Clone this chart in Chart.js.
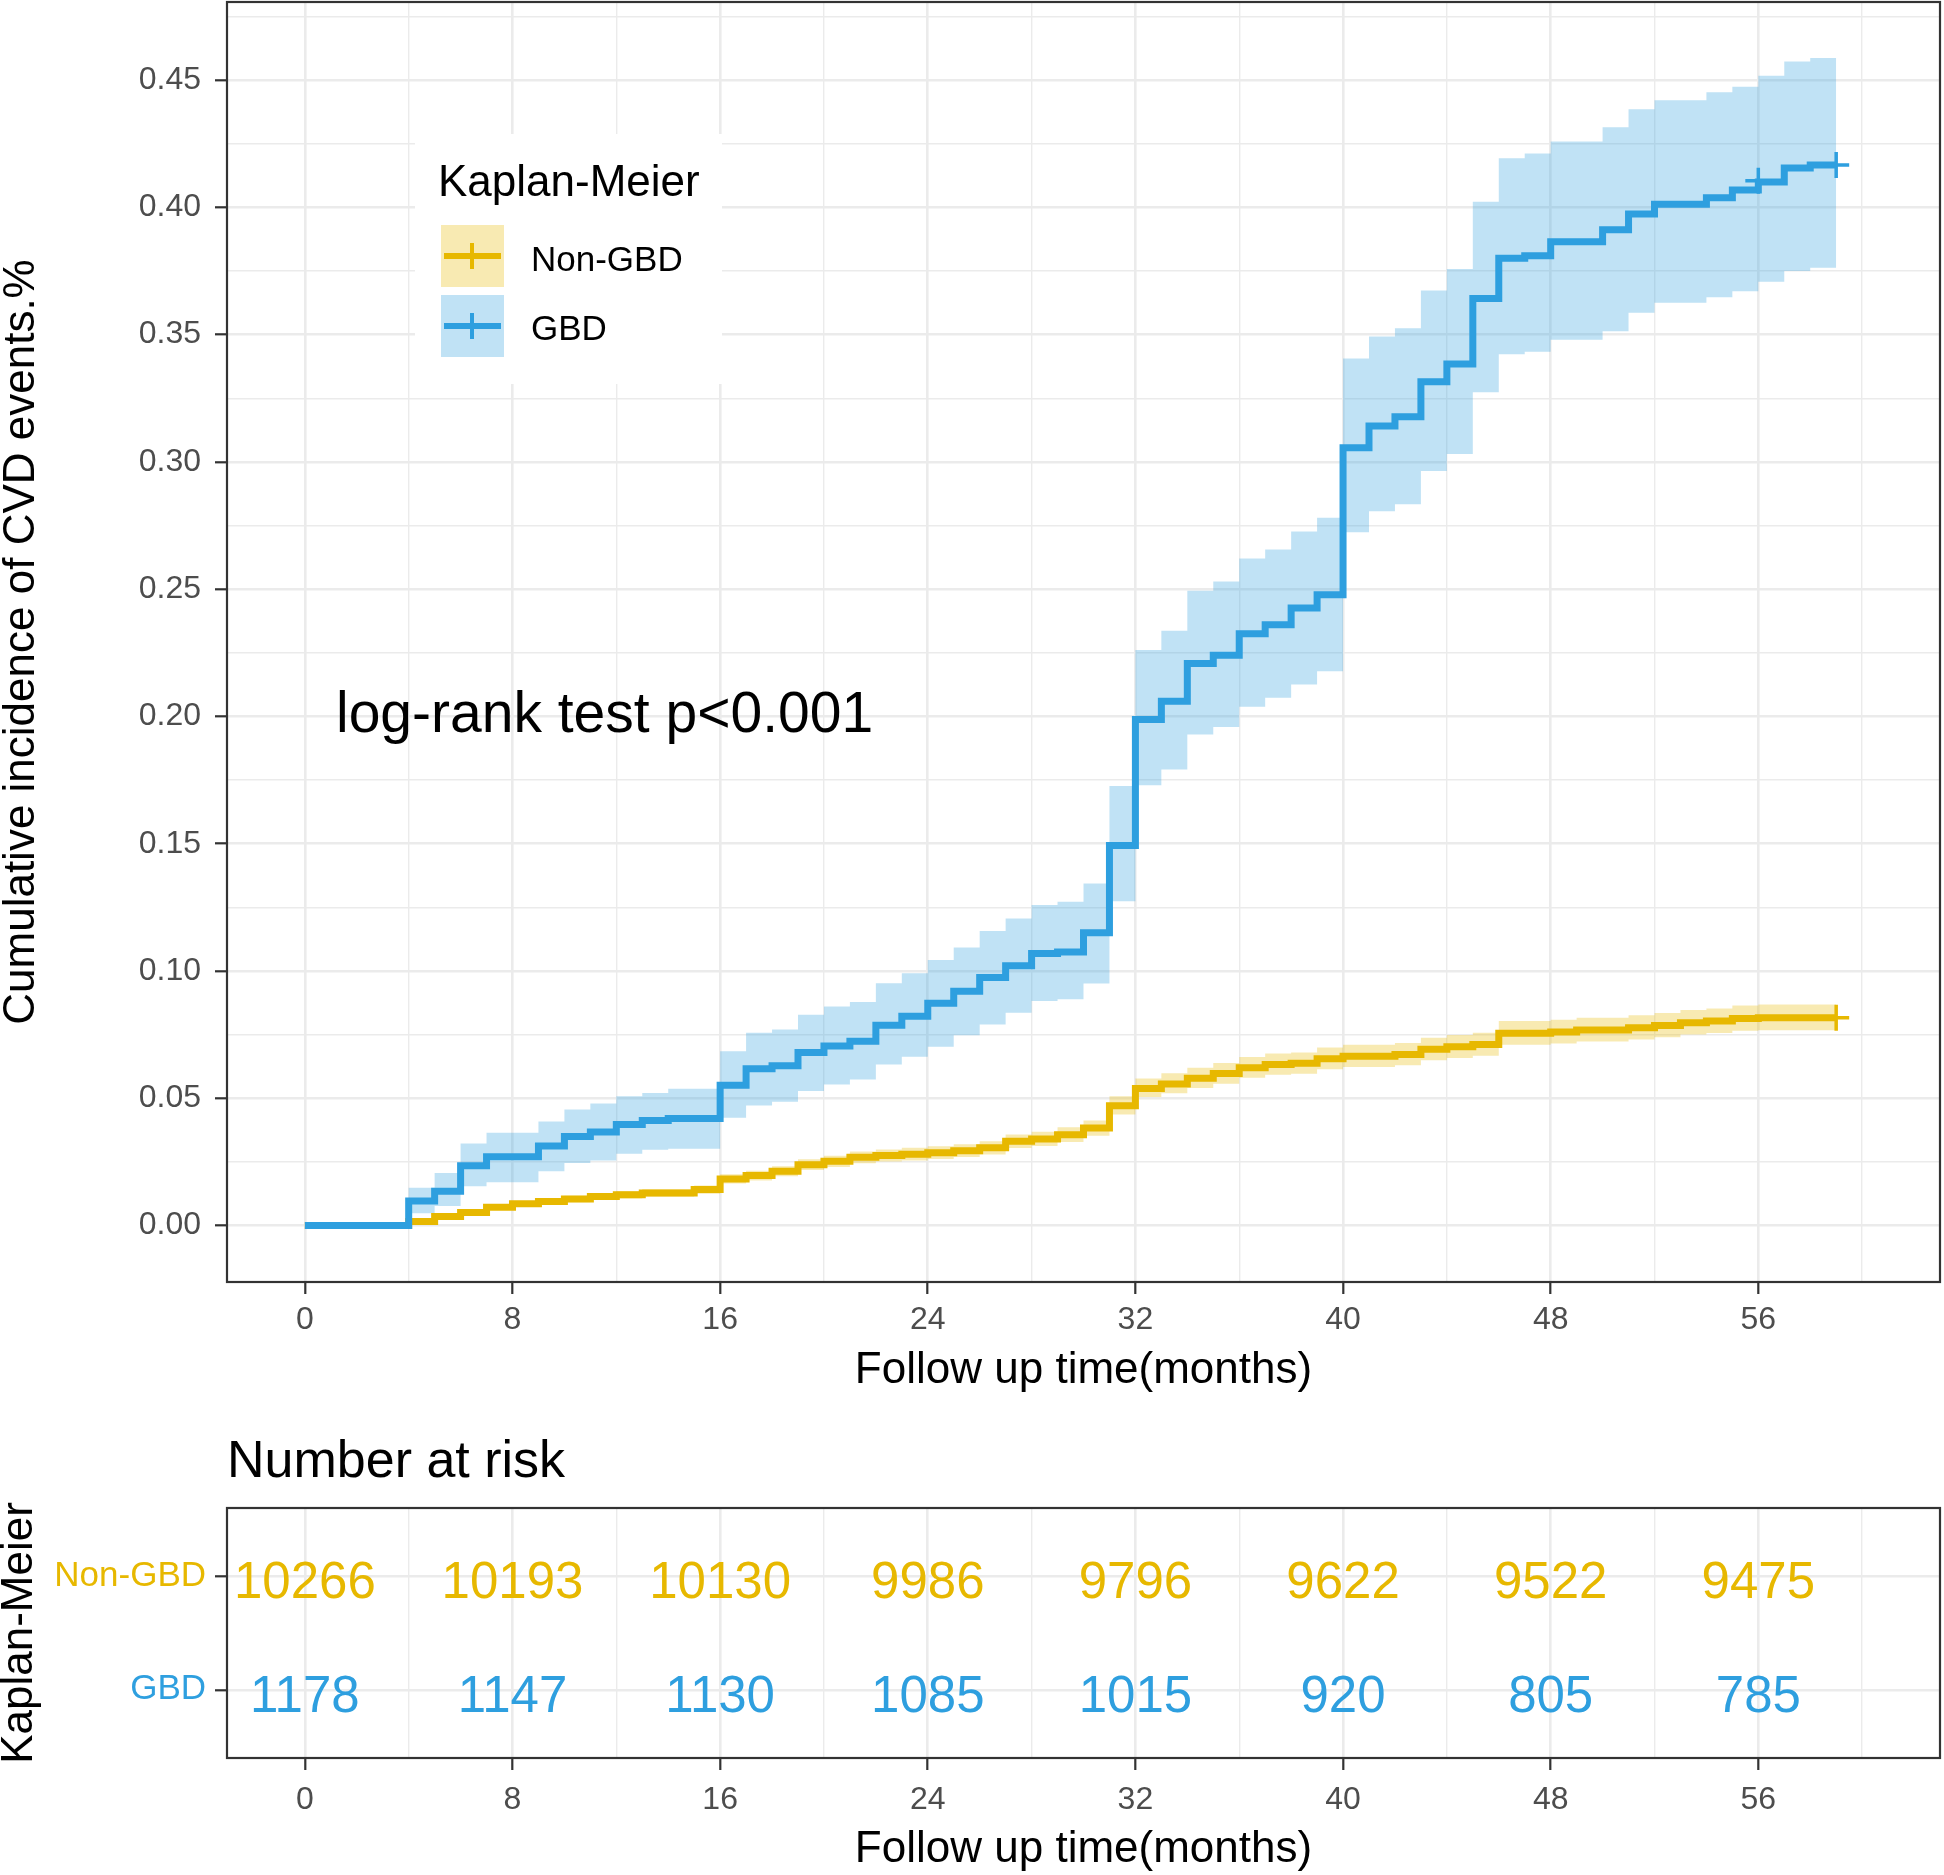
<!DOCTYPE html>
<html>
<head>
<meta charset="utf-8">
<title>Kaplan-Meier CVD events</title>
<script src="https://cdn.jsdelivr.net/npm/chart.js@4.4.1/dist/chart.umd.min.js"></script>
<style>
    html, body { margin: 0; padding: 0; background: #ffffff; overflow: hidden; }
    #wrap { position: relative; width: 1944px; height: 1875px; }
    #km { position: absolute; left: 0; top: 0; }
    #risk { position: absolute; left: 0; top: 1400px; }
</style>
</head>
<body>
<div id="wrap">
    <canvas id="km" width="1944" height="1400"></canvas>
    <canvas id="risk" width="1944" height="475"></canvas>
</div>
<script>
// grid / tick positions
const xTickValues = [0, 4, 8, 12, 16, 20, 24, 28, 32, 36, 40, 44, 48, 52, 56, 60];
const yTickValues = [0, 0.025, 0.05, 0.075, 0.1, 0.125, 0.15, 0.175, 0.2, 0.225, 0.25, 0.275,
                     0.3, 0.325, 0.35, 0.375, 0.4, 0.425, 0.45, 0.475];

// GBD group: step times (months), cumulative incidence, 95% CI
const gbdTime = [0, 4, 5, 6, 7, 9, 10, 11, 12, 13, 14, 16, 17, 18, 19, 20, 21, 22, 23, 24, 25, 26, 27,
                 28, 29, 30, 31, 32, 33, 34, 35, 36, 37, 38, 39, 40, 41, 42, 43, 44, 45, 46, 47, 48,
                 50, 51, 52, 54, 55, 56, 57, 58, 59];
const gbdEst = [0, 0.0096, 0.0135, 0.0235, 0.0270, 0.0312, 0.0350, 0.0367, 0.0397, 0.0413, 0.0420,
                0.0551, 0.0616, 0.0628, 0.0680, 0.0705, 0.0724, 0.0787, 0.0822, 0.0873, 0.0920, 0.0974,
                0.1021, 0.1069, 0.1075, 0.1150, 0.1493, 0.1988, 0.2060, 0.2208, 0.2240, 0.2325, 0.2360,
                0.2426, 0.2478, 0.3056, 0.3141, 0.3177, 0.3315, 0.3385, 0.3642, 0.3800, 0.3810, 0.3865,
                0.3912, 0.3974, 0.4012, 0.4038, 0.4068, 0.4100, 0.4155, 0.4167, 0.4167];
const gbdUpper = [0, 0.0148, 0.0206, 0.0322, 0.0364, 0.0409, 0.0456, 0.0479, 0.0508, 0.0521, 0.0537,
                  0.0685, 0.0757, 0.0770, 0.0828, 0.0860, 0.0878, 0.0952, 0.0991, 0.1043, 0.1092, 0.1157,
                  0.1206, 0.1259, 0.1272, 0.1344, 0.1727, 0.2261, 0.2337, 0.2494, 0.2530, 0.2621, 0.2656,
                  0.2727, 0.2781, 0.3406, 0.3493, 0.3525, 0.3674, 0.3758, 0.4022, 0.4193, 0.4212, 0.4259,
                  0.4315, 0.4386, 0.4421, 0.4452, 0.4474, 0.4517, 0.4573, 0.4587, 0.4587];
const gbdLower = [0, 0.0048, 0.0077, 0.0154, 0.0170, 0.0213, 0.0246, 0.0255, 0.0282, 0.0298, 0.0302,
                  0.0423, 0.0471, 0.0486, 0.0528, 0.0554, 0.0574, 0.0633, 0.0663, 0.0702, 0.0747, 0.0790,
                  0.0836, 0.0882, 0.0889, 0.0951, 0.1274, 0.1730, 0.1792, 0.1929, 0.1959, 0.2038, 0.2073,
                  0.2126, 0.2178, 0.2724, 0.2806, 0.2834, 0.2964, 0.3031, 0.3274, 0.3423, 0.3433, 0.3480,
                  0.3513, 0.3586, 0.3625, 0.3647, 0.3671, 0.3708, 0.3750, 0.3763, 0.3763];
const gbdCensorTime = [56, 59];
const gbdCensorEst = [0.4105, 0.4167];

// Non-GBD group
const nonTime = [0, 4, 5, 6, 7, 8, 9, 10, 11, 12, 13, 15, 16, 17, 18, 19, 20, 21, 22, 23, 24, 25, 26,
                 27, 28, 29, 30, 31, 32, 33, 34, 35, 36, 37, 38, 39, 40, 42, 43, 44, 45, 46, 48, 49,
                 51, 52, 53, 54, 55, 56, 59];
const nonEst = [0, 0.0016, 0.0035, 0.0051, 0.0072, 0.0085, 0.0094, 0.0104, 0.0114, 0.0121, 0.0128,
                0.0141, 0.0183, 0.0196, 0.0213, 0.0239, 0.0252, 0.0268, 0.0275, 0.0280, 0.0286, 0.0294,
                0.0305, 0.0331, 0.0340, 0.0357, 0.0383, 0.0470, 0.0538, 0.0556, 0.0579, 0.0597, 0.0620,
                0.0633, 0.0637, 0.0655, 0.0665, 0.0672, 0.0692, 0.0702, 0.0711, 0.0755, 0.0760, 0.0768,
                0.0777, 0.0786, 0.0797, 0.0803, 0.0813, 0.0816, 0.0816];
const nonUpper = [0, 0.0022, 0.0043, 0.0060, 0.0082, 0.0096, 0.0106, 0.0117, 0.0128, 0.0136, 0.0143,
                  0.0157, 0.0201, 0.0215, 0.0233, 0.0260, 0.0274, 0.0291, 0.0299, 0.0305, 0.0311, 0.0319,
                  0.0331, 0.0358, 0.0368, 0.0386, 0.0413, 0.0508, 0.0578, 0.0598, 0.0620, 0.0638, 0.0662,
                  0.0676, 0.0680, 0.0699, 0.0710, 0.0717, 0.0738, 0.0748, 0.0757, 0.0803, 0.0808, 0.0816,
                  0.0826, 0.0835, 0.0847, 0.0853, 0.0864, 0.0868, 0.0868];
const nonLower = [0, 0.0010, 0.0027, 0.0042, 0.0062, 0.0074, 0.0082, 0.0091, 0.0100, 0.0106, 0.0113,
                  0.0125, 0.0165, 0.0177, 0.0193, 0.0218, 0.0230, 0.0245, 0.0251, 0.0255, 0.0261, 0.0269,
                  0.0279, 0.0304, 0.0312, 0.0328, 0.0353, 0.0436, 0.0505, 0.0520, 0.0540, 0.0557, 0.0580,
                  0.0592, 0.0596, 0.0614, 0.0623, 0.0630, 0.0649, 0.0658, 0.0667, 0.0710, 0.0715, 0.0723,
                  0.0731, 0.0740, 0.0750, 0.0756, 0.0765, 0.0767, 0.0767];
const nonCensorTime = [59];
const nonCensorEst = [0.0816];

// number at risk table
const riskTimes = [0, 8, 16, 24, 32, 40, 48, 56];
const riskNonGBD = [10266, 10193, 10130, 9986, 9796, 9622, 9522, 9475];
const riskGBD = [1178, 1147, 1130, 1085, 1015, 920, 805, 785];
const riskRows = ['GBD', 'Non-GBD'];

const YELLOW = '#E7B800';
const BLUE = '#2E9FDF';
const YELLOW_FILL = 'rgba(231, 184, 0, 0.3)';
const BLUE_FILL = 'rgba(46, 159, 223, 0.3)';
const FONT = "'Liberation Sans', Arial, sans-serif";
const TICK_GREY = '#4D4D4D';

function toXY(xs, ys) {
    return xs.map((x, i) => ({ x: x, y: ys[i] }));
}

function isMajorX(v) {
    return v % 8 === 0;
}

function isMajorY(v) {
    return Math.abs(v * 20 - Math.round(v * 20)) < 1e-6;
}

// force the axis box size so the panel lands where the reference has it
function fixScale(width, height) {
    return function(scale) {
        if (width !== null) scale.width = width;
        if (height !== null) scale.height = height;
        scale.paddingLeft = 0;
        scale.paddingRight = 0;
        scale.paddingTop = 0;
        scale.paddingBottom = 0;
    };
}

function xScaleOptions(boxHeight, labelPad, titlePad) {
    return {
        type: 'linear',
        min: -3,
        max: 63,
        afterBuildTicks: s => { s.ticks = xTickValues.map(v => ({ value: v })); },
        afterFit: fixScale(null, boxHeight),
        border: { display: false },
        grid: {
            color: '#EBEBEB',
            lineWidth: ctx => (ctx.tick && isMajorX(ctx.tick.value)) ? 2.6 : 1.4,
            tickColor: ctx => (ctx.tick && isMajorX(ctx.tick.value)) ? '#333333' : 'rgba(0,0,0,0)',
            tickLength: 12,
            tickWidth: 2.2
        },
        ticks: {
            autoSkip: false,
            maxRotation: 0,
            padding: labelPad,
            color: TICK_GREY,
            font: { family: FONT, size: 32 },
            callback: v => isMajorX(v) ? String(v) : ''
        },
        title: {
            display: true,
            text: 'Follow up time(months)',
            color: '#000000',
            font: { family: FONT, size: 44, lineHeight: 1 },
            padding: { top: 0, bottom: titlePad }
        }
    };
}

function strokeSeg(ctx, x1, y1, x2, y2) {
    ctx.beginPath();
    ctx.moveTo(x1, y1);
    ctx.lineTo(x2, y2);
    ctx.stroke();
}

// legend, p-value text and panel frame of the KM plot
const kmDecor = {
    id: 'kmDecor',
    afterDatasetsDraw(chart) {
        const ctx = chart.ctx;
        const a = chart.chartArea;
        const xs = chart.scales.x;
        const ys = chart.scales.y;
        ctx.save();

        // legend
        ctx.fillStyle = '#FFFFFF';
        ctx.fillRect(415, 134, 307, 250);
        ctx.fillStyle = '#000000';
        ctx.textAlign = 'left';
        ctx.textBaseline = 'alphabetic';
        ctx.font = '44px ' + FONT;
        ctx.fillText('Kaplan-Meier', 438, 196);
        const keys = [
            { label: 'Non-GBD', color: YELLOW, fill: YELLOW_FILL, top: 225, base: 271 },
            { label: 'GBD', color: BLUE, fill: BLUE_FILL, top: 295, base: 340 }
        ];
        keys.forEach(k => {
            const cy = k.top + 31;
            ctx.fillStyle = k.fill;
            ctx.fillRect(441, k.top, 63, 62);
            ctx.strokeStyle = k.color;
            ctx.lineWidth = 6;
            strokeSeg(ctx, 444, cy, 501, cy);
            ctx.lineWidth = 4;
            strokeSeg(ctx, 472, cy - 13, 472, cy + 13);
            ctx.fillStyle = '#000000';
            ctx.font = '35px ' + FONT;
            ctx.fillText(k.label, 531, k.base);
        });

        // log-rank annotation
        ctx.font = '57px ' + FONT;
        ctx.fillText('log-rank test p<0.001', xs.getPixelForValue(1.2), ys.getPixelForValue(0.194));

        // panel border
        ctx.strokeStyle = '#333333';
        ctx.lineWidth = 2.2;
        ctx.strokeRect(a.left, a.top, a.right - a.left, a.bottom - a.top);
        ctx.restore();
    }
};

// numbers at risk and table frame
const riskDecor = {
    id: 'riskDecor',
    afterDatasetsDraw(chart) {
        const ctx = chart.ctx;
        const a = chart.chartArea;
        const rows = [
            { values: riskNonGBD, color: YELLOW },
            { values: riskGBD, color: BLUE }
        ];
        ctx.save();
        ctx.font = '51px ' + FONT;
        ctx.textAlign = 'center';
        ctx.textBaseline = 'alphabetic';
        rows.forEach((row, di) => {
            chart.getDatasetMeta(di).data.forEach((pt, i) => {
                ctx.fillStyle = row.color;
                ctx.fillText(String(row.values[i]), pt.x, pt.y + 22);
            });
        });
        ctx.strokeStyle = '#333333';
        ctx.lineWidth = 2.2;
        ctx.strokeRect(a.left, a.top, a.right - a.left, a.bottom - a.top);
        ctx.restore();
    }
};

// Kaplan-Meier plot
const kmChart = new Chart(document.getElementById('km'), {
    type: 'line',
    data: {
        datasets: [
            {
                label: 'GBD',
                data: toXY(gbdTime, gbdEst),
                borderColor: BLUE,
                borderWidth: 7,
                stepped: 'before',
                fill: false,
                order: 1
            },
            {
                label: 'Non-GBD',
                data: toXY(nonTime, nonEst),
                borderColor: YELLOW,
                borderWidth: 7,
                stepped: 'before',
                fill: false,
                order: 2
            },
            {
                label: 'GBD upper',
                data: toXY(gbdTime, gbdUpper),
                borderColor: 'rgba(0,0,0,0)',
                borderWidth: 0,
                backgroundColor: BLUE_FILL,
                stepped: 'before',
                fill: '+1',
                order: 5
            },
            {
                label: 'GBD lower',
                data: toXY(gbdTime, gbdLower),
                borderColor: 'rgba(0,0,0,0)',
                borderWidth: 0,
                stepped: 'before',
                fill: false,
                order: 5
            },
            {
                label: 'Non-GBD upper',
                data: toXY(nonTime, nonUpper),
                borderColor: 'rgba(0,0,0,0)',
                borderWidth: 0,
                backgroundColor: YELLOW_FILL,
                stepped: 'before',
                fill: '+1',
                order: 6
            },
            {
                label: 'Non-GBD lower',
                data: toXY(nonTime, nonLower),
                borderColor: 'rgba(0,0,0,0)',
                borderWidth: 0,
                stepped: 'before',
                fill: false,
                order: 6
            },
            {
                label: 'GBD censored',
                data: toXY(gbdCensorTime, gbdCensorEst),
                showLine: false,
                pointStyle: 'cross',
                pointRadius: 13,
                pointBorderWidth: 3.5,
                pointBorderColor: BLUE,
                order: 0
            },
            {
                label: 'Non-GBD censored',
                data: toXY(nonCensorTime, nonCensorEst),
                showLine: false,
                pointStyle: 'cross',
                pointRadius: 13,
                pointBorderWidth: 3.5,
                pointBorderColor: YELLOW,
                order: 0
            }
        ]
    },
    options: {
        responsive: false,
        animation: false,
        devicePixelRatio: 1,
        layout: { autoPadding: false, padding: { left: 0, top: 2, right: 4, bottom: 0 } },
        elements: { point: { radius: 0, hoverRadius: 0 } },
        plugins: {
            legend: { display: false },
            tooltip: { enabled: false }
        },
        scales: {
            x: xScaleOptions(118, 7, 7),
            y: {
                type: 'linear',
                min: -0.0222,
                max: 0.4807,
                afterBuildTicks: s => { s.ticks = yTickValues.map(v => ({ value: v })); },
                afterFit: fixScale(227, null),
                border: { display: false },
                grid: {
                    color: '#EBEBEB',
                    lineWidth: ctx => (ctx.tick && isMajorY(ctx.tick.value)) ? 2.6 : 1.4,
                    tickColor: ctx => (ctx.tick && isMajorY(ctx.tick.value)) ? '#333333' : 'rgba(0,0,0,0)',
                    tickLength: 12,
                    tickWidth: 2.2
                },
                ticks: {
                    autoSkip: false,
                    padding: 14,
                    color: TICK_GREY,
                    font: { family: FONT, size: 32 },
                    callback: v => isMajorY(v) ? v.toFixed(2) : ''
                },
                title: {
                    display: true,
                    text: 'Cumulative incidence of CVD events.%',
                    color: '#000000',
                    font: { family: FONT, size: 44, lineHeight: 1 },
                    padding: { top: 0, bottom: 0 }
                }
            }
        }
    },
    plugins: [kmDecor]
});

// risk table
const riskChart = new Chart(document.getElementById('risk'), {
    type: 'scatter',
    data: {
        datasets: [
            { label: 'Non-GBD', data: riskTimes.map(t => ({ x: t, y: 2 })), pointRadius: 0 },
            { label: 'GBD', data: riskTimes.map(t => ({ x: t, y: 1 })), pointRadius: 0 }
        ]
    },
    options: {
        responsive: false,
        animation: false,
        devicePixelRatio: 1,
        layout: { autoPadding: false, padding: { left: 0, top: 0, right: 4, bottom: 0 } },
        plugins: {
            legend: { display: false },
            tooltip: { enabled: false },
            title: {
                display: true,
                text: 'Number at risk',
                align: 'start',
                fullSize: false,
                color: '#000000',
                font: { family: FONT, size: 52, weight: 'normal', lineHeight: 1 },
                padding: { top: 37, bottom: 19 }
            }
        },
        scales: {
            x: xScaleOptions(117, 11, 3),
            y: {
                type: 'linear',
                min: 0.4,
                max: 2.6,
                afterBuildTicks: s => { s.ticks = [{ value: 1 }, { value: 2 }]; },
                afterFit: fixScale(227, null),
                border: { display: false },
                grid: {
                    color: '#EBEBEB',
                    lineWidth: 2.6,
                    tickColor: '#333333',
                    tickLength: 12,
                    tickWidth: 2.2
                },
                ticks: {
                    padding: 9,
                    font: { family: FONT, size: 35 },
                    color: ctx => ctx.tick.value === 2 ? YELLOW : BLUE,
                    callback: v => riskRows[v - 1]
                },
                title: {
                    display: true,
                    text: 'Kaplan-Meier',
                    color: '#000000',
                    font: { family: FONT, size: 44, lineHeight: 0.9 },
                    padding: { top: 0, bottom: 0 }
                }
            }
        }
    },
    plugins: [riskDecor]
});
</script>
</body>
</html>
